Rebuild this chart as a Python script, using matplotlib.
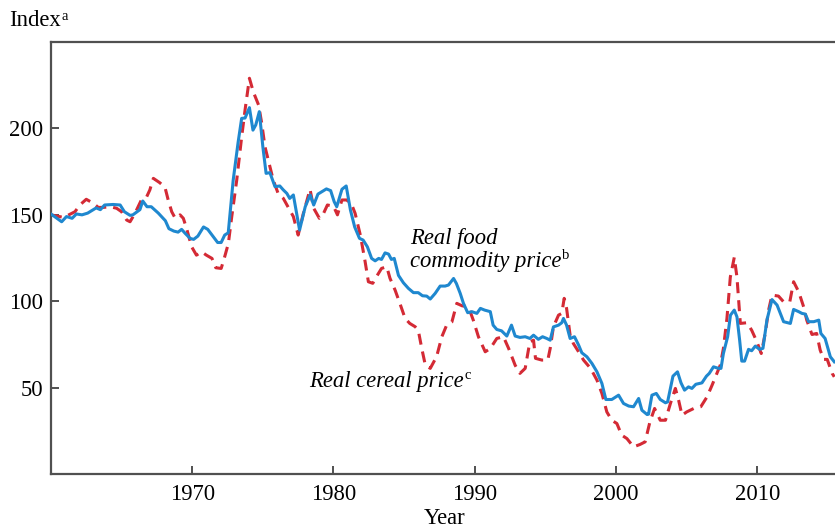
import matplotlib
matplotlib.use("Agg")
import matplotlib.pyplot as plt
from matplotlib.transforms import IdentityTransform

# Real food commodity price (blue, solid)
food_years = [1960.0, 1960.76, 1961.1, 1961.5, 1961.8, 1962.2, 1962.6, 1963.2, 1963.5, 1963.8,
              1964.4, 1964.9, 1965.2, 1965.6, 1965.8, 1966.3, 1966.5, 1966.8, 1967.1, 1967.6,
              1968.1, 1968.35, 1968.7, 1969.0, 1969.25, 1969.5, 1969.85, 1970.1, 1970.4, 1970.8,
              1971.1, 1971.5, 1971.8, 1972.05, 1972.3, 1972.55, 1972.9, 1973.25, 1973.5, 1973.74,
              1974.05, 1974.3, 1974.5, 1974.75, 1975.0, 1975.23, 1975.5, 1975.86, 1976.2, 1976.45,
              1976.7, 1976.9, 1977.16, 1977.6, 1978.0, 1978.35, 1978.6, 1978.9, 1979.5, 1979.8,
              1980.05, 1980.23, 1980.6, 1980.9, 1981.2, 1981.5, 1981.84, 1982.1, 1982.4, 1982.7,
              1982.95, 1983.2, 1983.4, 1983.65, 1983.9, 1984.1, 1984.3, 1984.6, 1984.95, 1985.3,
              1985.66, 1986.0, 1986.3, 1986.6, 1986.85, 1987.2, 1987.55, 1987.9, 1988.14, 1988.5,
              1988.7, 1988.97, 1989.2, 1989.5, 1989.8, 1990.15, 1990.4, 1990.7, 1991.1, 1991.3,
              1991.56, 1991.9, 1992.27, 1992.6, 1992.86, 1993.2, 1993.57, 1993.9, 1994.16, 1994.5,
              1994.8, 1995.1, 1995.34, 1995.57, 1995.93, 1996.16, 1996.28, 1996.5, 1996.75, 1997.06,
              1997.35, 1997.58, 1997.94, 1998.3, 1998.65, 1999.0, 1999.28, 1999.7, 2000.18, 2000.53,
              2000.9, 2001.24, 2001.6, 2001.83, 2002.2, 2002.3, 2002.54, 2002.85, 2003.13, 2003.5,
              2003.65, 2004.03, 2004.35, 2004.6, 2004.85, 2005.13, 2005.37, 2005.65, 2006.08, 2006.4,
              2006.6, 2006.9, 2007.26, 2007.43, 2007.6, 2007.9, 2008.1, 2008.37, 2008.56, 2008.75,
              2008.9, 2009.1, 2009.38, 2009.6, 2009.86, 2010.16, 2010.4, 2010.68, 2011.04, 2011.4,
              2011.58, 2011.86, 2012.34, 2012.57, 2012.93, 2013.16, 2013.4, 2013.63, 2014.0, 2014.35,
              2014.5, 2014.8, 2015.17, 2015.45]
food_values = [150.5, 146, 149, 148, 150.5, 150, 151, 154, 153, 155.7,
               156, 155.7, 151.8, 149.7, 150, 153, 158, 154.7, 154.7, 151,
               146.6, 142, 140.6, 140, 141.6, 139.3, 136.4, 135.8, 137.7, 143,
               141.6, 137.3, 134, 134, 138.3, 139.6, 170, 192, 205.8, 206,
               212, 199, 202, 209.7, 189.4, 174, 174.4, 166.3, 166.7, 164.4,
               162.4, 159.5, 161.5, 141.2, 154.7, 161.5, 155.7, 162, 165, 164,
               157.6, 154.7, 164.8, 166.7, 152.8, 143, 136.4, 135.4, 131.5, 124.8,
               123.4, 124.8, 124.2, 128, 127.3, 124.2, 124.8, 115, 110.7, 107.5,
               105, 105, 103.2, 103, 101.3, 104.6, 108.8, 108.8, 109.4, 113.2,
               110.3, 104.6, 98.8, 93.4, 94, 93, 95.9, 94.9, 94, 86.2,
               83.7, 82.9, 79.9, 86.2, 79.9, 79.1, 79.5, 78.5, 80.4, 78,
               79.5, 78.5, 77.5, 85.2, 86.2, 87.6, 90.1, 86.2, 78.5, 79.5,
               74.7, 70.2, 67.9, 64, 59.2, 52.5, 43.2, 43.2, 45.7, 40.9,
               39.4, 39, 43.8, 37, 34.5, 34.7, 45.7, 46.7, 43.2, 41.3,
               41.8, 56.7, 59.2, 52.8, 48.6, 50.5, 49.6, 52, 52.8, 56.7,
               58.3, 62.1, 61.2, 61.2, 69.8, 79.5, 92, 94.9, 91, 77.5,
               65.4, 65.4, 72.2, 71.4, 74.1, 72.2, 72.8, 89.1, 101, 97.8,
               94, 88.2, 87.2, 95.3, 94, 93, 92.6, 88.2, 88.2, 89.1,
               81.4, 78.5, 67.9, 65]

# Real cereal price (red, dashed)
cereal_years = [1960.0, 1960.9, 1961.1, 1961.7, 1962.05, 1962.5, 1963.0, 1963.35, 1963.7, 1964.2,
                1964.65, 1965.0, 1965.36, 1965.6, 1965.95, 1966.4, 1966.78, 1967.0, 1967.25, 1967.7,
                1968.07, 1968.3, 1968.55, 1968.8, 1969.14, 1969.37, 1969.6, 1969.96, 1970.3, 1970.67,
                1971.0, 1971.4, 1971.67, 1972.05, 1972.3, 1972.56, 1972.8, 1973.15, 1973.5, 1973.74,
                1974.05, 1974.33, 1974.7, 1974.92, 1975.15, 1975.5, 1975.74, 1976.1, 1976.45, 1976.8,
                1977.16, 1977.5, 1977.87, 1978.34, 1978.6, 1979.0, 1979.3, 1979.57, 1980.0, 1980.28,
                1980.6, 1980.94, 1981.3, 1981.53, 1981.9, 1982.24, 1982.47, 1982.78, 1983.07, 1983.4,
                1983.77, 1984.0, 1984.36, 1984.7, 1985.07, 1985.4, 1985.78, 1986.0, 1986.25, 1986.5,
                1986.85, 1987.3, 1987.67, 1988.0, 1988.38, 1988.73, 1989.1, 1989.55, 1989.9, 1990.26,
                1990.74, 1991.1, 1991.56, 1992.03, 1992.4, 1992.86, 1993.2, 1993.57, 1993.9, 1994.16,
                1994.3, 1994.75, 1995.17, 1995.34, 1995.57, 1995.93, 1996.16, 1996.33, 1996.5, 1996.75,
                1996.98, 1997.35, 1997.7, 1998.2, 1998.65, 1999.0, 1999.35, 1999.7, 2000.06, 2000.4,
                2000.77, 2001.24, 2001.7, 2002.06, 2002.4, 2002.73, 2003.13, 2003.5, 2003.85, 2004.2,
                2004.43, 2004.67, 2005.0, 2005.5, 2006.0, 2006.44, 2006.8, 2007.14, 2007.38, 2007.6,
                2007.85, 2008.09, 2008.37, 2008.56, 2008.8, 2009.27, 2009.6, 2009.97, 2010.28, 2010.56,
                2010.8, 2011.04, 2011.5, 2011.86, 2012.3, 2012.57, 2012.93, 2013.28, 2013.5, 2013.87,
                2014.2, 2014.45, 2014.7, 2014.95, 2015.3, 2015.45]
cereal_values = [150, 148.5, 149.3, 151.8, 155.7, 159, 156.7, 154.3, 154.3, 154.7,
                 153.8, 151.8, 147, 146, 150.9, 158.6, 160.5, 164.4, 171.1, 168.6,
                 166, 158.6, 151.8, 148, 150, 148, 142.2, 131.5, 126.7, 128.6,
                 126.7, 124.8, 119.4, 119, 125.8, 133.5, 149, 170, 195, 210.6,
                 229, 221, 213.5, 203, 189.4, 177.8, 170, 162, 159.5, 154.3,
                 149, 138.3, 150.9, 164.8, 153.8, 148, 150.9, 155.7, 155, 150,
                 158.6, 158.6, 155.7, 150.9, 138.3, 122.9, 111.3, 110.4, 114.6, 119,
                 120, 113.3, 106.5, 98.8, 90.1, 87.2, 85.3, 83.3, 72.7, 63.1,
                 61.2, 68, 79.5, 86, 88, 98.8, 97.4, 96.8, 89, 79.5,
                 70.8, 72.7, 78.5, 79.5, 72.7, 63, 58.3, 61.2, 76.6, 77.5,
                 67, 66, 66, 72.7, 85.3, 92, 93, 101.7, 95.9, 80.4,
                 75.6, 70.8, 66, 61.2, 54.4, 46.7, 36, 31.2, 29.3, 22.6,
                 20.6, 15.8, 17.2, 18.7, 30.3, 38, 31.2, 31.2, 40.9, 49.6,
                 42.8, 34.1, 36, 38, 39, 44.7, 51.5, 58.3, 63.1, 72.7,
                 90, 114, 125.4, 114, 87.2, 87.6, 83.3, 76.6, 69.8, 81.4,
                 94.9, 103.6, 103, 99.7, 99.7, 111.3, 105.5, 96.8, 89.1, 80.8,
                 81.4, 71.8, 66.4, 66.4, 58.3, 56.3]

y_ticks = [0, 50, 100, 150, 200, 250]
y_tick_labels = ["", "50", "100", "150", "200", ""]
x_ticks = [1970, 1980, 1990, 2000, 2010]
x_tick_labels = ["1970", "1980", "1990", "2000", "2010"]

plt.rcParams["font.family"] = ["Liberation Serif", "DejaVu Serif"]

FS = 16.3
SUP_FS = 10.5

fig = plt.figure(figsize=(8.35, 5.31), dpi=100)
ax = fig.add_axes([0.061, 0.107, 0.939, 0.814])

ax.plot(cereal_years, cereal_values, color="#d42a35", lw=2.2, dashes=(3.6, 2.3), zorder=2)
ax.plot(food_years, food_values, color="#1f88cf", lw=2.2, zorder=3)

ax.set_xlim(1960, 2015.5)
ax.set_ylim(0, 250)
ax.set_xticks(x_ticks)
ax.set_xticklabels(x_tick_labels)
ax.set_yticks(y_ticks)
ax.set_yticklabels(y_tick_labels)

spine_col = "#505050"
for s in ["left", "bottom", "top"]:
    ax.spines[s].set_color(spine_col)
    ax.spines[s].set_linewidth(1.6)
ax.spines["right"].set_visible(False)
ax.tick_params(direction="in", length=5.5, width=1.4, color=spine_col,
               labelsize=FS, labelcolor="black")
ax.tick_params(axis="y", pad=5.5)
ax.tick_params(axis="x", pad=7)

renderer = fig.canvas.get_renderer()


def add_sup(txt_artist, base_disp_y, sup, raise_px=7.5, gap=1.0):
    bb = txt_artist.get_window_extent(renderer)
    fig.text(bb.x1 + gap, base_disp_y + raise_px, sup, fontsize=SUP_FS,
             ha="left", va="baseline", transform=IdentityTransform())


# "Index^a" label
t_idx = fig.text(0.0112, 0.951, "Index", fontsize=FS, ha="left", va="baseline")
add_sup(t_idx, fig.transFigure.transform((0, 0.951))[1], "a", raise_px=6.5, gap=0.5)

fig.text(0.533, 0.013, "Year", fontsize=FS, ha="center", va="baseline")

ax.text(1985.42, 133.1, "Real food", fontsize=FS, style="italic", ha="left", va="baseline")
t_b = ax.text(1985.42, 120.0, "commodity price", fontsize=FS, style="italic",
              ha="left", va="baseline")
add_sup(t_b, ax.transData.transform((1985.42, 120.0))[1], "b")
t_c = ax.text(1978.29, 50.5, "Real cereal price", fontsize=FS, style="italic",
              ha="left", va="baseline")
add_sup(t_c, ax.transData.transform((1978.29, 50.5))[1], "c")

fig.savefig("out.png", dpi=100)
